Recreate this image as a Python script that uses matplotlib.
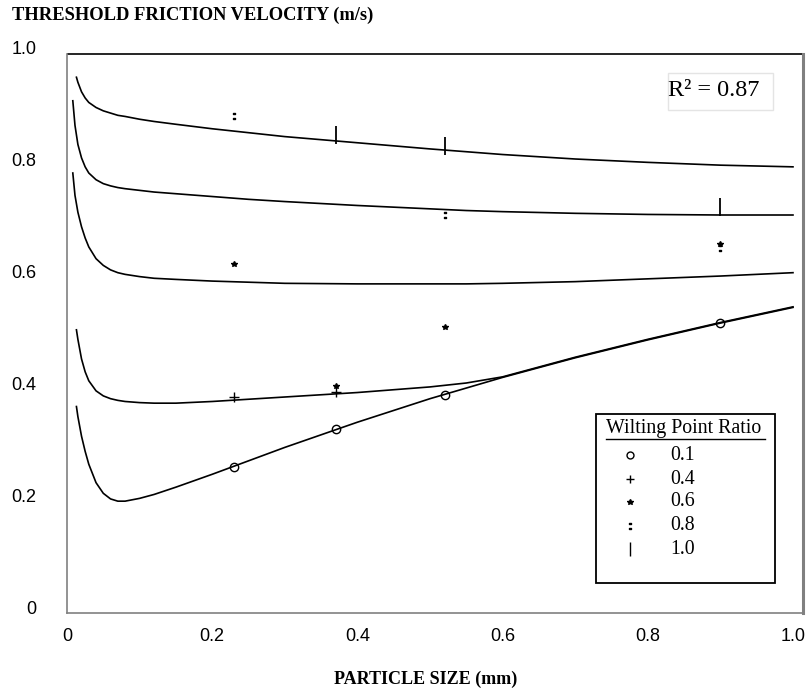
"""Threshold friction velocity vs particle size, per wilting point ratio."""

import matplotlib
matplotlib.use("Agg")
import matplotlib.pyplot as plt
from matplotlib.lines import Line2D
from matplotlib.patches import Rectangle

W, H = 806, 696

# --- fitted curves ---
curve_x = [0.015, 0.02, 0.025, 0.03, 0.04, 0.05, 0.06, 0.07, 0.08, 0.1, 0.12, 0.15,
           0.2, 0.25, 0.3, 0.4, 0.5, 0.55, 0.6, 0.7, 0.8, 0.9, 1.0]
# first point(s) of each curve, left of curve_x
curve_head_x = [[0.013], [0.008, 0.011], [0.008, 0.011], [0.013], [0.013]]
curve_head_y = [[0.946], [0.904, 0.860], [0.775, 0.735], [0.495], [0.358]]
curve_y = [
    # ratio 1.0
    [0.937, 0.920, 0.909, 0.901, 0.892, 0.886, 0.882, 0.878, 0.876, 0.871, 0.867, 0.862,
     0.854, 0.847, 0.840, 0.829, 0.818, 0.813, 0.808, 0.800, 0.794, 0.789, 0.786],
    # ratio 0.8
    [0.826, 0.802, 0.786, 0.775, 0.763, 0.756, 0.752, 0.749, 0.747, 0.744, 0.741, 0.738,
     0.733, 0.728, 0.724, 0.717, 0.711, 0.708, 0.706, 0.703, 0.701, 0.700, 0.700],
    # ratio 0.6
    [0.705, 0.679, 0.659, 0.643, 0.622, 0.610, 0.602, 0.597, 0.594, 0.590, 0.587, 0.585,
     0.582, 0.580, 0.578, 0.577, 0.577, 0.577, 0.578, 0.581, 0.586, 0.591, 0.597],
    # ratio 0.4
    [0.478, 0.443, 0.420, 0.404, 0.386, 0.377, 0.372, 0.369, 0.367, 0.365, 0.364, 0.364,
     0.367, 0.371, 0.375, 0.383, 0.393, 0.400, 0.411, 0.446, 0.478, 0.508, 0.536],
    # ratio 0.1
    [0.340, 0.305, 0.278, 0.255, 0.222, 0.203, 0.193, 0.189, 0.189, 0.194, 0.201, 0.214,
     0.237, 0.261, 0.285, 0.330, 0.372, 0.391, 0.410, 0.445, 0.477, 0.507, 0.535],
]

# --- measured points ---
ratio_labels = ["0.1", "0.4", "0.6", "0.8", "1.0"]
pts_x = [
    [0.23, 0.37, 0.52, 0.90],
    [0.23, 0.37],
    [0.23, 0.37, 0.52, 0.90],
    [0.23, 0.52, 0.90],
    [0.37, 0.52, 0.90],
]
pts_y = [
    [0.250, 0.318, 0.379, 0.507],
    [0.375, 0.384],
    [0.612, 0.395, 0.500, 0.648],
    [0.877, 0.700, 0.641],
    [0.842, 0.823, 0.714],
]
markers = ["o", "+", "*", "$:$", "|"]
msizes = [6, 7, 4, 5, 13]
leg_msizes = [5, 6, 4, 5, 10]

x_ticks = [0, 0.2, 0.4, 0.6, 0.8, 1.0]
x_ticklabels = ["0", "0.2", "0.4", "0.6", "0.8", "1.0"]
y_ticks = [0, 0.2, 0.4, 0.6, 0.8, 1.0]
y_ticklabels = ["0", "0.2", "0.4", "0.6", "0.8", "1.0"]

SERIF = "Liberation Serif"
SANS = "Liberation Sans"
FRAME_TOP, FRAME_BOTTOM = 0.9875, -0.0107


def fx(px):
    return px / W


def fy(py):
    return 1 - py / H


fig = plt.figure(figsize=(W / 100, H / 100), dpi=100)
ax = fig.add_axes([fx(67), fy(613), fx(803) - fx(67), fy(47) - fy(613)])
ax.set_xlim(0, 1.0138)
ax.set_ylim(FRAME_BOTTOM, 1.0)

for hx, hy, ys in zip(curve_head_x, curve_head_y, curve_y):
    ax.plot(hx + curve_x, hy + ys, color="black", lw=1.2, solid_joinstyle="round")

for xs, ys, m, ms in zip(pts_x, pts_y, markers, msizes):
    ax.plot(xs, ys, ls="none", marker=m, ms=ms, mfc="none" if m == "o" else "black",
            mec="black", mew=1.0 if m != "|" else 1.3)

# frame: grey left/bottom/right, black top
ax.spines["top"].set_visible(False)
for s in ("left", "bottom", "right"):
    ax.spines[s].set_color("#808080")
    ax.spines[s].set_linewidth(1.2)
ax.spines["right"].set_linewidth(2.2)
ax.spines["left"].set_bounds(FRAME_BOTTOM, FRAME_TOP)
ax.spines["right"].set_bounds(FRAME_BOTTOM, FRAME_TOP)
ax.axhline(FRAME_TOP, color="black", lw=1.2)

ax.set_xticks(x_ticks, x_ticklabels, fontsize=13, family=SANS)
ax.set_yticks(y_ticks, y_ticklabels, fontsize=13, family=SANS)
ax.tick_params(axis="both", length=0)
ax.tick_params(axis="x", pad=11)
ax.tick_params(axis="y", pad=22)

fig.text(fx(12), fy(15), "THRESHOLD FRICTION VELOCITY (m/s)", fontsize=13.3,
         fontweight="bold", family=SERIF, va="center", ha="left")
fig.text(fx(426), fy(679), "PARTICLE SIZE (mm)", fontsize=13,
         fontweight="bold", family=SERIF, va="center", ha="center")

# R^2 box
fig.add_artist(Rectangle((fx(667.7), fy(110)), fx(773.3) - fx(667.7), fy(72.7) - fy(110),
                         transform=fig.transFigure, fill=False, edgecolor="#e4e4e4", lw=1))
fig.text(fx(668), fy(90), "R² = 0.87", fontsize=17.5, family=SERIF, va="center", ha="left")

# legend box
fig.add_artist(Rectangle((fx(596), fy(583)), fx(775) - fx(596), fy(414) - fy(583),
                         transform=fig.transFigure, facecolor="white", edgecolor="black", lw=1.3))
fig.text(fx(606), fy(429), "Wilting Point Ratio", fontsize=14.3, family=SERIF,
         va="center", ha="left")
fig.add_artist(Line2D([fx(606), fx(765)], [fy(439), fy(439)], transform=fig.transFigure,
                      color="black", lw=1))
row_y = [455, 479, 502, 526, 549]
for ry, m, ms, lab in zip(row_y, markers, leg_msizes, ratio_labels):
    fig.add_artist(Line2D([fx(630)], [fy(ry)], transform=fig.transFigure, ls="none",
                          marker=m, ms=ms, mfc="none" if m == "o" else "black",
                          mec="black", mew=1.0))
    fig.text(fx(670), fy(ry), lab, fontsize=14.3, family=SERIF, va="center", ha="left")

fig.savefig("out.png", dpi=100)
